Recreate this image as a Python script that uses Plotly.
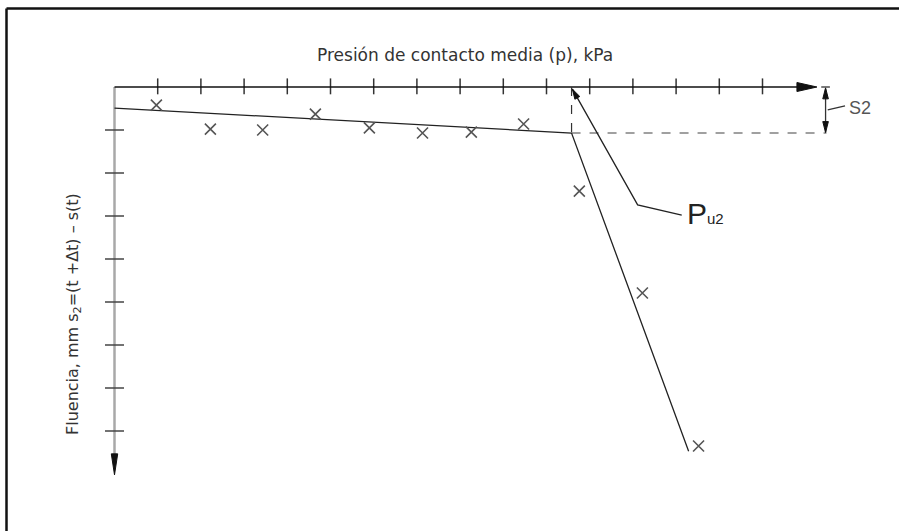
import math
import plotly.graph_objects as go

# ---- data (in axis units: 1 unit = one tick spacing) ----
x_ticks = list(range(1, 16))
y_ticks = list(range(1, 9))

pts_x = [0.97, 2.22, 3.43, 4.65, 5.90, 7.13, 8.26, 9.47, 10.76, 12.22, 13.52]
pts_y = [0.42, 0.98, 1.00, 0.63, 0.95, 1.07, 1.05, 0.86, 2.42, 4.79, 8.35]

fit_x = [0.0, 10.58, 13.29]
fit_y = [0.49, 1.07, 8.47]

pu_x = [10.60, 12.11, 13.13]
pu_y = [0.05, 2.74, 2.98]

x_axis_end = 16.26
y_axis_end = 9.02
s2_x = 16.46
dash_end = 16.48

title_text = "Presión de contacto media (p), kPa"
ylabel_text = "Fluencia, mm s<sub>2</sub>=(t +Δt) – s(t)"

# pixel mapping: x_pix = X0 + XS*x ; y_pix = Y0 + YS*y
W, H = 899, 531
X0, XS = 114.5, 43.2
Y0, YS = 87.0, 43.0
xr = [(0 - X0) / XS, (W - X0) / XS]
yr = [(H - Y0) / YS, (0 - Y0) / YS]


def arrowhead(tx, ty, fx, fy, length_px, half_px):
    """Triangle (in axis units) with tip at (tx,ty), pointing away from (fx,fy)."""
    px, py = X0 + XS * tx, Y0 + YS * ty
    qx, qy = X0 + XS * fx, Y0 + YS * fy
    dx, dy = px - qx, py - qy
    n = math.hypot(dx, dy)
    dx, dy = dx / n, dy / n
    bx, by = px - dx * length_px, py - dy * length_px
    nx, ny = -dy, dx
    pts = [(px, py), (bx + nx * half_px, by + ny * half_px), (bx - nx * half_px, by - ny * half_px), (px, py)]
    return [(a - X0) / XS for a, _ in pts], [(b - Y0) / YS for _, b in pts]


fig = go.Figure()

# x axis ticks
tx, ty = [], []
for t in x_ticks:
    tx += [t, t, None]
    ty += [-0.2, 0.17, None]
fig.add_trace(go.Scatter(x=tx, y=ty, mode="lines",
                         line=dict(color="#333", width=1.5), hoverinfo="skip"))

# y axis line (grey)
fig.add_trace(go.Scatter(x=[0, 0], y=[0, 8.6], mode="lines",
                         line=dict(color="#a8a8a8", width=2.5), hoverinfo="skip"))
# y axis ticks
ux, uy = [], []
for t in y_ticks:
    ux += [-0.22, 0.22, None]
    uy += [t, t, None]
fig.add_trace(go.Scatter(x=ux, y=uy, mode="lines",
                         line=dict(color="#444", width=1.5), hoverinfo="skip"))

# x axis line
fig.add_trace(go.Scatter(x=[0, x_axis_end - 0.4], y=[0, 0], mode="lines",
                         line=dict(color="#111", width=1.6), hoverinfo="skip"))

# dashed helpers
fig.add_trace(go.Scatter(x=[fit_x[1], dash_end], y=[fit_y[1], fit_y[1]], mode="lines",
                         line=dict(color="#a0a0a0", width=2, dash="dash"), hoverinfo="skip"))
fig.add_trace(go.Scatter(x=[fit_x[1], fit_x[1]], y=[0, fit_y[1]], mode="lines",
                         line=dict(color="#333", width=1.2, dash="dash"), hoverinfo="skip"))

# fitted lines
fig.add_trace(go.Scatter(x=fit_x, y=fit_y, mode="lines",
                         line=dict(color="#222", width=1.3), hoverinfo="skip"))

# Pu2 leader
fig.add_trace(go.Scatter(x=pu_x, y=pu_y, mode="lines",
                         line=dict(color="#222", width=1.3), hoverinfo="skip"))

# S2 dimension line
fig.add_trace(go.Scatter(x=[s2_x, s2_x, None, s2_x - 0.1, s2_x + 0.1, None, s2_x + 0.05, s2_x + 0.45],
                         y=[0.05, 1.05, None, 0.0, 0.0, None, 0.53, 0.44], mode="lines",
                         line=dict(color="#333", width=1.3), hoverinfo="skip"))

# arrowheads
heads = [
    arrowhead(x_axis_end, 0, 0, 0, 20, 4.5),
    arrowhead(0, y_axis_end, 0, 0, 21, 3.2),
    arrowhead(pu_x[0], pu_y[0], pu_x[1], pu_y[1], 10, 2.8),
    arrowhead(s2_x, 0.02, s2_x, 0.5, 11, 2.8),
    arrowhead(s2_x, 1.06, s2_x, 0.5, 11, 2.8),
]
for hx, hy in heads:
    fig.add_trace(go.Scatter(x=hx, y=hy, mode="lines", fill="toself", fillcolor="#111",
                             line=dict(color="#111", width=1), hoverinfo="skip"))

# measured points
fig.add_trace(go.Scatter(x=pts_x, y=pts_y, mode="markers",
                         marker=dict(symbol="x-thin", size=11, line=dict(color="#555", width=1.6)),
                         hoverinfo="skip"))

# texts
fig.add_annotation(x=(465 - X0) / XS, y=(55 - Y0) / YS, xref="x", yref="y", showarrow=False,
                   text=title_text, font=dict(family="DejaVu Sans", size=17, color="#333"))
fig.add_annotation(x=(73 - X0) / XS, y=(314 - Y0) / YS, xref="x", yref="y", showarrow=False,
                   text=ylabel_text, textangle=-90,
                   font=dict(family="DejaVu Sans", size=16, color="#333"))
fig.add_annotation(x=13.2, y=2.95, xref="x", yref="y", showarrow=False,
                   xanchor="left", yanchor="middle",
                   text="P<span style='font-size:15px'>u2</span>",
                   font=dict(family="Liberation Sans, Arial, sans-serif", size=30, color="#222"))
fig.add_annotation(x=s2_x + 0.5, y=0.48, xref="x", yref="y", showarrow=False,
                   xanchor="left", yanchor="middle", text="S2",
                   font=dict(family="Liberation Sans, Arial, sans-serif", size=18, color="#555"))

# frame (top and left)
fig.add_shape(type="line", xref="paper", yref="paper", x0=6.5 / W, x1=1, y0=1 - 8.5 / H, y1=1 - 8.5 / H,
              line=dict(color="#111", width=2.5))
fig.add_shape(type="line", xref="paper", yref="paper", x0=6.5 / W, x1=6.5 / W, y0=0, y1=1 - 8.5 / H,
              line=dict(color="#111", width=2.5))

fig.update_layout(
    width=W, height=H, margin=dict(l=0, r=0, t=0, b=0),
    paper_bgcolor="white", plot_bgcolor="white", showlegend=False,
    xaxis=dict(range=xr, visible=False, fixedrange=True),
    yaxis=dict(range=yr, visible=False, fixedrange=True),
)

fig.write_html("out.html", config={"displayModeBar": False},
               post_script="document.body.style.margin='0';")
